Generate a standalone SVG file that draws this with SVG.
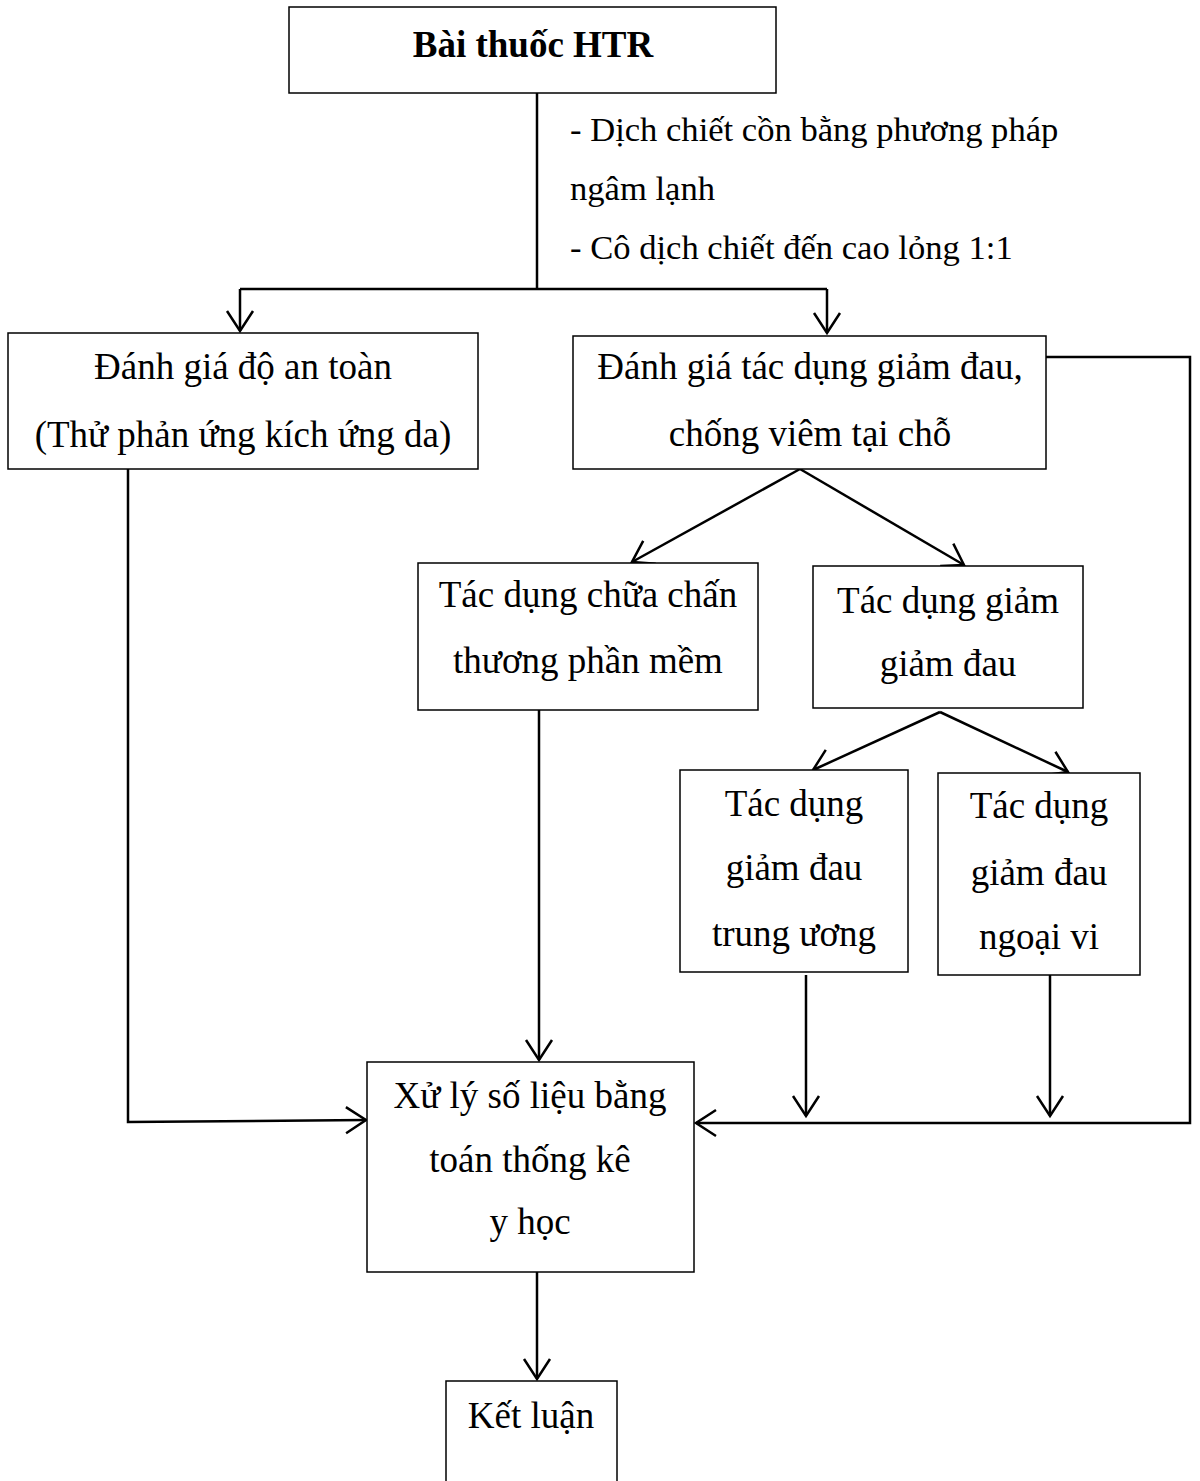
<svg xmlns="http://www.w3.org/2000/svg" width="1200" height="1481" viewBox="0 0 1200 1481">
<style>
.box{fill:#fff;stroke:#000;stroke-width:1.5}
.t{font-family:"Liberation Serif","Times New Roman",serif;font-size:37px;fill:#000;text-anchor:middle}
.n{font-family:"Liberation Serif","Times New Roman",serif;font-size:34.6px;fill:#000}
.c{fill:none;stroke:#000;stroke-width:2.5}
</style>
<defs>
<marker id="ah" markerUnits="userSpaceOnUse" markerWidth="30" markerHeight="32" refX="21" refY="16" orient="auto">
<path d="M1,3 L21,16 L1,29" fill="none" stroke="#000" stroke-width="2.5"/>
</marker>
</defs>
<g id="connectors">
<path class="c" d="M537,93 V289"/>
<path class="c" d="M240,289 H827"/>
<path class="c" d="M240,289 V331" marker-end="url(#ah)"/>
<path class="c" d="M827,289 V333" marker-end="url(#ah)"/>
<path class="c" d="M1046,357 H1190 V1123 H696" marker-end="url(#ah)"/>
<path class="c" d="M800,469 L632,562" marker-end="url(#ah)"/>
<path class="c" d="M800,469 L964,565" marker-end="url(#ah)"/>
<path class="c" d="M940,712 L813,770" marker-end="url(#ah)"/>
<path class="c" d="M940,712 L1068,772" marker-end="url(#ah)"/>
<path class="c" d="M539,710 V1060" marker-end="url(#ah)"/>
<path class="c" d="M128,469 V1122 L366,1120" marker-end="url(#ah)"/>
<path class="c" d="M806,975 V1116" marker-end="url(#ah)"/>
<path class="c" d="M1050,975 V1116" marker-end="url(#ah)"/>
<path class="c" d="M537,1272 V1379" marker-end="url(#ah)"/>
<g id="note">
<text class="n" x="570" y="141">- Dịch chiết cồn bằng phương pháp</text>
<text class="n" x="570" y="200">ngâm lạnh</text>
<text class="n" x="570" y="259">- Cô dịch chiết đến cao lỏng 1:1</text>
</g>
</g>
<g id="n1"><rect class="box" x="289" y="7" width="487" height="86"/><text class="t" x="533" y="57" font-weight="bold">Bài thuốc HTR</text></g>
<g id="n2"><rect class="box" x="8" y="333" width="470" height="136"/><text class="t" x="243" y="379">Đánh giá độ an toàn</text><text class="t" x="243" y="447">(Thử phản ứng kích ứng da)</text></g>
<g id="n3"><rect class="box" x="573" y="336" width="473" height="133"/><text class="t" x="810" y="379">Đánh giá tác dụng giảm đau,</text><text class="t" x="810" y="446">chống viêm tại chỗ</text></g>
<g id="n4"><rect class="box" x="418" y="563" width="340" height="147"/><text class="t" x="588" y="607">Tác dụng chữa chấn</text><text class="t" x="588" y="673">thương phần mềm</text></g>
<g id="n5"><rect class="box" x="813" y="566" width="270" height="142"/><text class="t" x="948" y="613">Tác dụng giảm</text><text class="t" x="948" y="676">giảm đau</text></g>
<g id="n6"><rect class="box" x="680" y="770" width="228" height="202"/><text class="t" x="794" y="816">Tác dụng</text><text class="t" x="794" y="880">giảm đau</text><text class="t" x="794" y="946">trung ương</text></g>
<g id="n7"><rect class="box" x="938" y="773" width="202" height="202"/><text class="t" x="1039" y="818">Tác dụng</text><text class="t" x="1039" y="885">giảm đau</text><text class="t" x="1039" y="949">ngoại vi</text></g>
<g id="n8"><rect class="box" x="367" y="1062" width="327" height="210"/><text class="t" x="530" y="1108">Xử lý số liệu bằng</text><text class="t" x="530" y="1172">toán thống kê</text><text class="t" x="530" y="1234">y học</text></g>
<g id="n9"><rect class="box" x="446" y="1381" width="171" height="110"/><text class="t" x="531" y="1428">Kết luận</text></g>
</svg>
